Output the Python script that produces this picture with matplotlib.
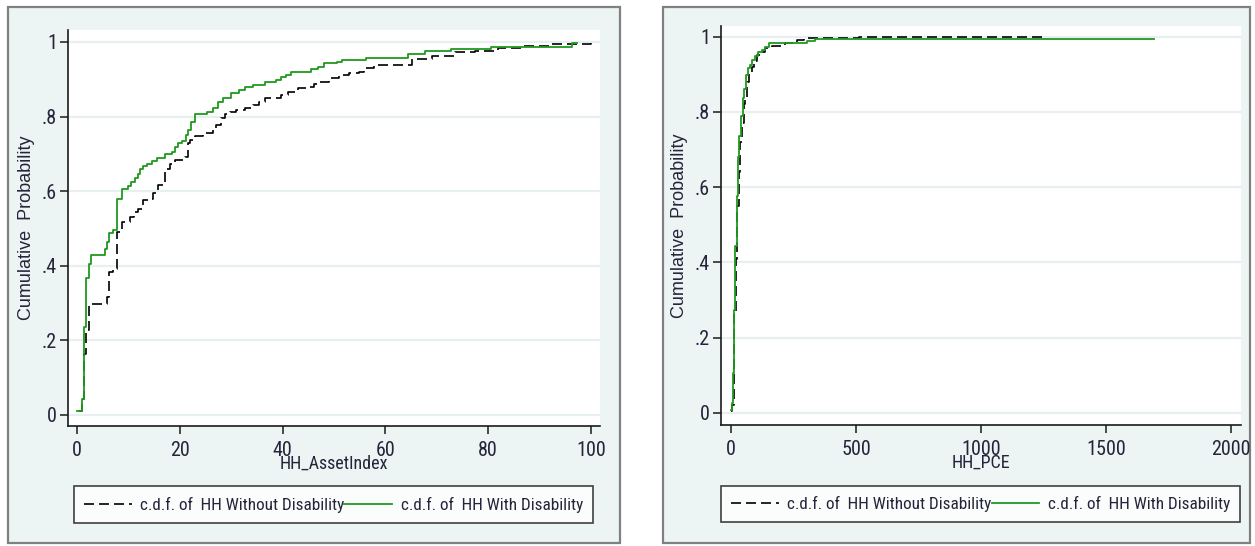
import matplotlib.pyplot as plt
from matplotlib.patches import Rectangle
from matplotlib import font_manager

# --- data (step c.d.f.s) ---
asset_x_with = [0.0, 0.9, 1.3, 1.8, 2.3, 2.8, 5.5, 5.8, 6.3, 7.1, 7.7, 8.8, 10.0, 10.6, 11.3, 11.8,
                12.3, 12.9, 13.7, 14.5, 15.5, 17.1, 18.4, 19.0, 19.7, 20.5, 21.2, 21.6, 22.1, 22.9,
                25.2, 26.5, 27.4, 28.4, 30.0, 31.6, 32.6, 34.2, 36.5, 38.7, 39.7, 40.6, 41.7, 45.5,
                46.8, 48.1, 50.6, 51.6, 56.2, 64.3, 67.8, 72.8, 80.5, 96.3, 97.3]
asset_p_with = [0.012, 0.043, 0.235, 0.367, 0.405, 0.428, 0.446, 0.464, 0.488, 0.495, 0.578, 0.607,
                0.614, 0.625, 0.634, 0.645, 0.659, 0.668, 0.674, 0.680, 0.688, 0.699, 0.705, 0.719,
                0.728, 0.735, 0.750, 0.764, 0.786, 0.806, 0.813, 0.822, 0.839, 0.851, 0.864, 0.871,
                0.880, 0.885, 0.893, 0.898, 0.905, 0.911, 0.920, 0.927, 0.934, 0.943, 0.946, 0.952,
                0.958, 0.969, 0.975, 0.981, 0.986, 0.998, 0.998]

asset_x_without = [0.3, 1.0, 1.4, 1.7, 2.3, 5.8, 6.3, 7.0, 7.7, 8.7, 10.3, 11.0, 11.9, 12.9, 13.9,
                   14.8, 15.8, 17.1, 18.1, 19.0, 21.0, 21.5, 21.9, 22.9, 24.5, 26.5, 27.1, 28.1,
                   28.7, 29.7, 31.0, 32.6, 34.2, 35.5, 36.5, 38.1, 39.7, 41.0, 42.9, 44.5, 46.1,
                   47.1, 49.0, 51.0, 52.9, 54.8, 55.9, 57.8, 65.1, 69.0, 73.6, 77.4, 82.0, 86.7,
                   92.1, 100.0]
asset_p_without = [0.012, 0.043, 0.164, 0.227, 0.298, 0.316, 0.383, 0.392, 0.491, 0.518, 0.531,
                   0.544, 0.553, 0.576, 0.580, 0.594, 0.616, 0.660, 0.674, 0.683, 0.692, 0.728,
                   0.737, 0.748, 0.755, 0.764, 0.777, 0.795, 0.806, 0.813, 0.817, 0.822, 0.831,
                   0.840, 0.849, 0.851, 0.858, 0.867, 0.876, 0.880, 0.886, 0.893, 0.902, 0.911,
                   0.916, 0.920, 0.930, 0.939, 0.953, 0.963, 0.972, 0.977, 0.983, 0.989, 0.995,
                   0.997]

pce_x_with = [0, 2.7, 6.7, 10.7, 14.7, 22.7, 29.4, 33.4, 41.4, 46.8, 53.5, 60.2, 69.5, 76.2,
              85.6, 96.3, 109.6, 123, 136.4, 152.4, 303.5, 337, 1690]
pce_p_with = [0.009, 0.027, 0.106, 0.274, 0.444, 0.577, 0.680, 0.736, 0.788, 0.836, 0.861, 0.898,
              0.916, 0.925, 0.938, 0.949, 0.958, 0.965, 0.973, 0.982, 0.987, 0.994, 0.994]

pce_x_without = [0, 5.3, 13.4, 20, 25.4, 32, 37.4, 45.5, 50.8, 57.5, 62.8, 72.2, 82.9, 93.6, 103,
                 116, 136, 163, 217, 263, 290, 317, 510, 1265]
pce_p_without = [0.005, 0.020, 0.27, 0.41, 0.55, 0.64, 0.72, 0.77, 0.82, 0.84, 0.88, 0.90, 0.92,
                 0.935, 0.95, 0.96, 0.97, 0.975, 0.983, 0.99, 0.995, 0.997, 1.0, 1.0]

y_ticks = [0, 0.2, 0.4, 0.6, 0.8, 1]
y_ticklabels = ['0', '.2', '.4', '.6', '.8', '1']
asset_xticks = [0, 20, 40, 60, 80, 100]
pce_xticks = [0, 500, 1000, 1500, 2000]
label_without = 'c.d.f. of  HH Without Disability'
label_with = 'c.d.f. of  HH With Disability'

W, H = 1255, 546

# pick a narrow face if one is installed
installed = {f.name for f in font_manager.fontManager.ttflist}
narrow_face = None
for cand in ['Liberation Sans Narrow', 'DejaVu Sans Condensed', 'Roboto Condensed',
             'Open Sans Condensed', 'Noto Sans Condensed']:
    if cand in installed:
        narrow_face = cand
        break
if narrow_face is None:
    narrow = ['Liberation Sans', 'DejaVu Sans']
    nscale = 0.85
else:
    narrow = [narrow_face, 'DejaVu Sans']
    nscale = 1.0

txt = '#24243a'
green = '#1f9a1f'
panel_bg = '#ecf4f4'

fig = plt.figure(figsize=(W / 100, H / 100), dpi=100)


def px_box(x0, y0, x1, y1):
    return [x0 / W, 1 - y1 / H, (x1 - x0) / W, (y1 - y0) / H]


def panel(frame, axbox, legbox, xw, pw, xo, po, xticks, xlim, ylim, xlabel):
    l, b, w, h = px_box(*frame)
    fig.patches.append(Rectangle((l, b), w, h, transform=fig.transFigure,
                                 facecolor=panel_bg, edgecolor='#808080', linewidth=1.6,
                                 zorder=-5))
    ax = fig.add_axes(px_box(*axbox))
    ax.set_zorder(2)
    ax.set_facecolor('white')
    for yv in y_ticks:
        ax.axhline(yv, color='#e7eff0', linewidth=1.6, zorder=0)
    lo, = ax.plot(xo, po, drawstyle='steps-post', color='black', linewidth=1.2,
                  linestyle=(0, (6, 3)), label=label_without)
    lw_, = ax.plot(xw, pw, drawstyle='steps-post', color=green, linewidth=1.3,
                   label=label_with)
    ax.set_xlim(*xlim)
    ax.set_ylim(*ylim)
    ax.set_xticks(xticks)
    ax.set_yticks(y_ticks)
    ax.set_yticklabels(y_ticklabels)
    for s in ['top', 'right']:
        ax.spines[s].set_visible(False)
    for s in ['left', 'bottom']:
        ax.spines[s].set_linewidth(1.2)
        ax.spines[s].set_color('#1a1a1a')
    ax.tick_params(axis='both', length=6, width=1.1, colors='#1a1a1a', labelcolor=txt,
                   labelsize=14.5 * nscale)
    ax.tick_params(axis='x', pad=5)
    ax.tick_params(axis='y', pad=2)
    for t in ax.get_xticklabels() + ax.get_yticklabels():
        t.set_family(narrow)
    ax.set_xlabel(xlabel, family=narrow, fontsize=13 * nscale, color=txt, labelpad=-4)
    ax.set_ylabel('Cumulative  Probability', family=['Liberation Sans', 'DejaVu Sans'],
                  fontsize=13, color=txt, labelpad=5)
    lx0, ly0, lx1, ly1 = legbox
    leg = ax.legend(handles=[lo, lw_], ncol=2, loc='center',
                    bbox_to_anchor=((lx0 + lx1) / 2 / W, 1 - (ly0 + ly1) / 2 / H),
                    bbox_transform=fig.transFigure, frameon=True, fancybox=False,
                    handlelength=2.8, handletextpad=0.5, columnspacing=0.0,
                    borderpad=0.6, prop={'family': narrow, 'size': 12.3 * nscale})
    leg.get_frame().set_edgecolor('#111111')
    leg.get_frame().set_linewidth(1.2)
    for t in leg.get_texts():
        t.set_color(txt)
    return ax


panel((8, 7, 620, 543), (68, 30, 600, 426), (73, 486, 594, 523),
      asset_x_with, asset_p_with, asset_x_without, asset_p_without,
      asset_xticks, (-1.75, 101.75), (-0.0295, 1.032), 'HH_AssetIndex')

panel((663, 7, 1250, 543), (721, 26, 1241, 425), (726, 486, 1235, 522),
      pce_x_with, pce_p_with, pce_x_without, pce_p_without,
      pce_xticks, (-40, 2040), (-0.032, 1.028), 'HH_PCE')

fig.savefig('out.png', dpi=100)
